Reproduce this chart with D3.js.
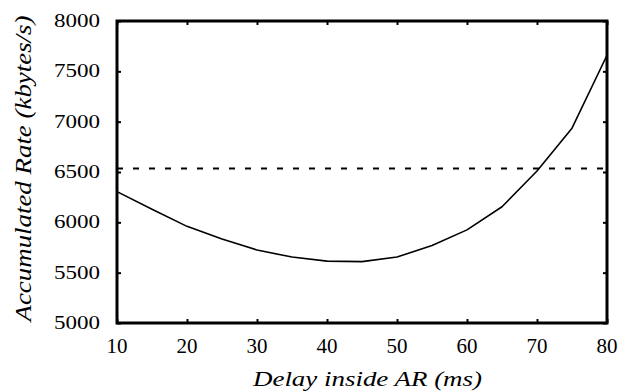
<!DOCTYPE html>
<html><head><meta charset="utf-8">
<script src="https://cdn.jsdelivr.net/npm/d3@7"></script>
<style>body{margin:0;background:#fff}svg{display:block}</style>
</head><body>
<svg id="chart" width="628" height="392"></svg>
<script>
const delays = [10,15,20,25,30,35,40,45,50,55,60,65,70,75,80];
const rates  = [6305,6130,5960,5835,5725,5655,5615,5610,5655,5770,5925,6155,6510,6935,7660];
const thresholdRate = 6535;
const xTicks = [10,20,30,40,50,60,70,80];
const yTicks = [5000,5500,6000,6500,7000,7500,8000];
const xTitle = "Delay inside AR (ms)";
const yTitle = "Accumulated Rate (kbytes/s)";

const W=628,H=392, m={l:117,r:21,t:21,b:69};
const svg=d3.select("#chart");
const x=d3.scaleLinear().domain([10,80]).range([m.l,W-m.r]);
const y=d3.scaleLinear().domain([5000,8000]).range([H-m.b,m.t]);
const font="'Liberation Serif','Times New Roman',Times,serif";

// ticks inward
const tl=4;
const axB=d3.axisBottom(x).tickValues(xTicks).tickSize(-tl).tickFormat("");
const axT=d3.axisTop(x).tickValues(xTicks).tickSize(-tl).tickFormat("");
const axL=d3.axisLeft(y).tickValues(yTicks).tickSize(-tl).tickFormat("");
const axR=d3.axisRight(y).tickValues(yTicks).tickSize(-tl).tickFormat("");
[[axB,`translate(0,${H-m.b})`],[axT,`translate(0,${m.t})`],[axL,`translate(${m.l},0)`],[axR,`translate(${W-m.r},0)`]].forEach(([a,t])=>{
  const g=svg.append("g").attr("transform",t).call(a);
  g.select(".domain").remove();
  g.selectAll("line").attr("stroke","#000").attr("stroke-width",2);
});

// tick labels
svg.append("g").selectAll("text").data(xTicks).join("text")
  .attr("x",d=>x(d)).attr("y",H-m.b+30).attr("text-anchor","middle")
  .style("font-family",font).attr("font-size",21).text(d=>d);
svg.append("g").selectAll("text").data(yTicks).join("text")
  .attr("x",m.l-17).attr("y",d=>y(d)+6).attr("text-anchor","end")
  .style("font-family",font).attr("font-size",19)
  .attr("textLength",46).attr("lengthAdjust","spacingAndGlyphs").text(d=>d);

// threshold dashed line
svg.append("line").attr("x1",x(10)).attr("x2",x(80))
  .attr("y1",y(thresholdRate)).attr("y2",y(thresholdRate))
  .attr("stroke","#000").attr("stroke-width",2).attr("stroke-dasharray","6,10");

// curve
svg.append("path").datum(delays.map((d,i)=>[d,rates[i]]))
  .attr("fill","none").attr("stroke","#000").attr("stroke-width",1.6)
  .attr("stroke-linejoin","round")
  .attr("d",d3.line().x(d=>x(d[0])).y(d=>y(d[1])).curve(d3.curveLinear));

// frame
svg.append("rect").attr("x",m.l).attr("y",m.t).attr("width",W-m.l-m.r).attr("height",H-m.t-m.b)
  .attr("fill","none").attr("stroke","#000").attr("stroke-width",3);

// titles
svg.append("text").attr("x",(253+482)/2).attr("y",386).attr("text-anchor","middle")
  .style("font-family",font).attr("font-style","italic").attr("font-size",22)
  .attr("textLength",229).attr("lengthAdjust","spacingAndGlyphs").text(xTitle);
svg.append("text").attr("transform",`translate(31,${(15+322)/2}) rotate(-90)`)
  .attr("text-anchor","middle").style("font-family",font).attr("font-style","italic").attr("font-size",23)
  .attr("textLength",306).attr("lengthAdjust","spacingAndGlyphs").text(yTitle);
</script>
</body></html>
